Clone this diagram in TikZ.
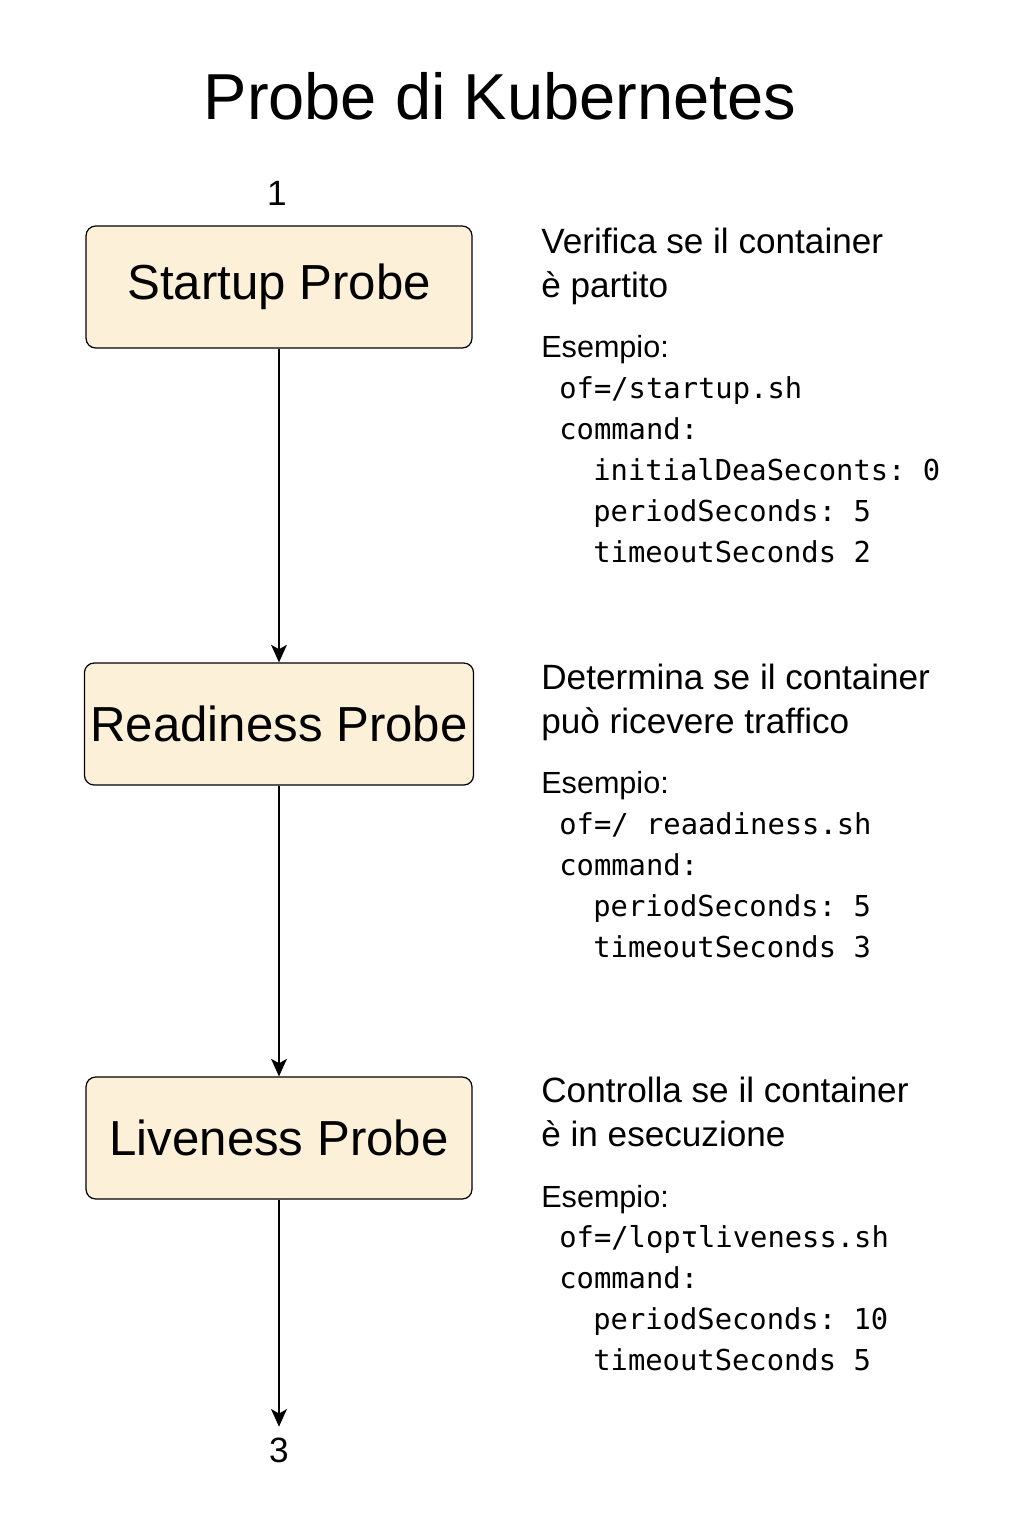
\documentclass[tikz,border=0pt]{standalone}
\usepackage{fontspec}
\setmainfont{Liberation Sans}
\setmonofont{DejaVu Sans Mono}
\usetikzlibrary{arrows.meta}
\definecolor{probefill}{HTML}{FDF0D8}
\tikzset{
    probe/.style={draw,line width=0.7pt,fill=probefill,rounded corners=5.5pt,minimum width=7.72cm,minimum height=2.44cm,font=\fontsize{28}{32}\selectfont},
    descr/.style={anchor=base west,align=left,inner sep=0pt,font=\fontsize{20}{25}\selectfont},
    esempio/.style={anchor=base west,inner sep=0pt,font=\fontsize{17.4}{21}\selectfont},
    codetxt/.style={anchor=base west,align=left,inner sep=0pt,font=\fontsize{16.4}{23.2}\ttfamily},
    flow/.style={line width=0.8pt,-{Stealth[length=10pt,width=9pt,inset=2.5pt]}}
}
\newcommand{\ind}{\hspace*{0.68cm}}
\begin{document}
\begin{tikzpicture}[x=0.02cm,y=-0.02cm]
    \useasboundingbox (0,0) rectangle (1024,1536);
    \node[anchor=base,font=\fontsize{37}{40}\selectfont] (title) at (500,119) {Probe di Kubernetes};
    % probes
    \node[font=\fontsize{20}{24}\selectfont] (one) at (277,193) {1};
    \node[probe] (startup) at (279,287) {Startup Probe};
    \node[probe] (readiness) at (279,724) {Readiness Probe};
    \node[probe] (liveness) at (279,1138) {Liveness Probe};
    \node[font=\fontsize{20}{24}\selectfont,inner sep=6pt] (three) at (279,1450) {3};
    \draw[flow] (startup.south) -- (readiness.north);
    \draw[flow] (readiness.south) -- (liveness.north);
    \draw[flow] (liveness.south) -- (three.north);
    % descriptions (base = last line)
    \node[descr] (d1) at (541,297) {Verifica se il container\\è partito};
    \node[esempio] (e1) at (541,357) {Esempio:};
    \node[codetxt] (c1) at (559,562) {of=/startup.sh\\command:\\\ind initialDeaSeconts: 0\\\ind periodSeconds: 5\\\ind timeoutSeconds 2};
    \node[descr] (d2) at (541,733) {Determina se il container\\può ricevere traffico};
    \node[esempio] (e2) at (541,793) {Esempio:};
    \node[codetxt] (c2) at (559,957) {of=/ reaadiness.sh\\command:\\\ind periodSeconds: 5\\\ind timeoutSeconds 3};
    \node[descr] (d3) at (541,1146) {Controlla se il container\\è in esecuzione};
    \node[esempio] (e3) at (541,1207) {Esempio:};
    \node[codetxt] (c3) at (559,1370) {of=/lopτliveness.sh\\command:\\\ind periodSeconds: 10\\\ind timeoutSeconds 5};
\end{tikzpicture}
\end{document}
